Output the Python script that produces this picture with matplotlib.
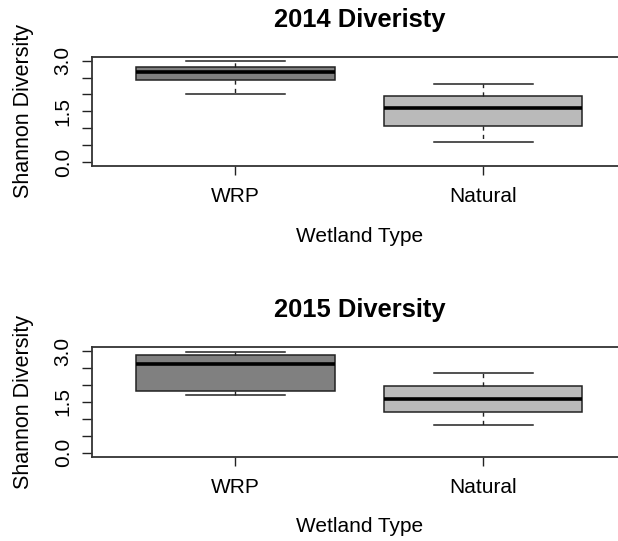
import matplotlib
matplotlib.use("Agg")
import matplotlib.pyplot as plt

plt.rcParams["font.family"] = ["Liberation Sans", "DejaVu Sans"]

# Wetland types and per-year five-number summaries of Shannon diversity
categories = ["WRP", "Natural"]
titles = ["2014 Diveristy", "2015 Diversity"]

whislo_2014 = [2.00, 0.58]
q1_2014 = [2.43, 1.07]
med_2014 = [2.66, 1.60]
q3_2014 = [2.81, 1.96]
whishi_2014 = [3.00, 2.31]

whislo_2015 = [1.70, 0.82]
q1_2015 = [1.84, 1.21]
med_2015 = [2.64, 1.59]
q3_2015 = [2.90, 1.98]
whishi_2015 = [2.98, 2.36]

yticks = [0.0, 0.5, 1.0, 1.5, 2.0, 2.5, 3.0]
ytick_labels = ["0.0", "", "", "1.5", "", "", "3.0"]

fills = ["#808080", "#bababa"]

W, H, DPI = 618, 541, 100
PX = 72.0 / DPI  # points per pixel

fig = plt.figure(figsize=(W / DPI, H / DPI), dpi=DPI)


def panel(rect, title, lo, q1, med, q3, hi):
    ax = fig.add_axes(rect)
    stats = [
        dict(whislo=lo[i], q1=q1[i], med=med[i], q3=q3[i], whishi=hi[i], fliers=[])
        for i in range(len(categories))
    ]
    parts = ax.bxp(
        stats,
        positions=[1, 2],
        widths=0.8,
        capwidths=0.4,
        patch_artist=True,
        showfliers=False,
        boxprops=dict(edgecolor="#222222", linewidth=1.1),
        medianprops=dict(color="black", linewidth=2.6, solid_capstyle="butt"),
        whiskerprops=dict(color="#222222", linewidth=1.0, linestyle=(0, (3, 3))),
        capprops=dict(color="#222222", linewidth=1.1),
    )
    for patch, c in zip(parts["boxes"], fills):
        patch.set_facecolor(c)

    ax.set_xlim(0.42, 2.58)
    ax.set_ylim(-0.12, 3.12)
    ax.set_xticks([1, 2])
    ax.set_xticklabels(categories, fontsize=15)
    ax.set_yticks(yticks)
    ax.set_yticklabels(ytick_labels, fontsize=15, rotation=90, va="center")
    ax.tick_params(axis="x", length=9 * PX, width=1.0, pad=12.5 * PX, color="#222222")
    ax.tick_params(axis="y", length=10 * PX, width=1.0, pad=9 * PX, color="#222222")
    for s in ax.spines.values():
        s.set_linewidth(1.3)
        s.set_color("#333333")
    # the plot frame runs past the right edge of the canvas
    ax.spines["right"].set_visible(False)

    ax.set_title(title, fontsize=18.4, fontweight="bold", pad=30 * PX)
    ax.annotate("Wetland Type", xy=(0.5, 0), xycoords="axes fraction",
                xytext=(0, -75.7 * PX), textcoords="offset points",
                ha="center", va="baseline", fontsize=15)
    ax.annotate("Shannon Diversity", xy=(0, 0.5), xycoords="axes fraction",
                xytext=(-(91.7 - 29) * PX, 0), textcoords="offset points",
                ha="center", va="baseline", rotation=90, rotation_mode="anchor",
                fontsize=15.5)
    return ax


left = 91.7 / W
width = (627.0 - 91.7) / W
panel([left, 1 - 166.0 / H, width, (166.0 - 56.7) / H], titles[0],
      whislo_2014, q1_2014, med_2014, q3_2014, whishi_2014)
panel([left, 1 - 456.7 / H, width, (456.7 - 347.3) / H], titles[1],
      whislo_2015, q1_2015, med_2015, q3_2015, whishi_2015)

fig.savefig("out.png", dpi=DPI)
